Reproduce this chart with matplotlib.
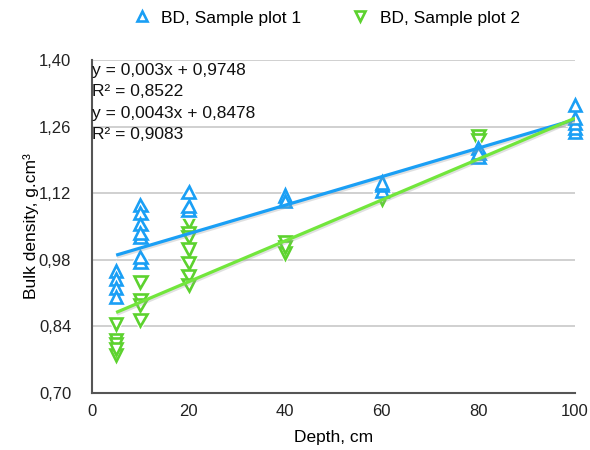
import matplotlib
matplotlib.use("Agg")
import matplotlib.pyplot as plt
import matplotlib.patheffects as pe
from matplotlib.lines import Line2D
from matplotlib.ticker import FuncFormatter, MultipleLocator

plt.rcParams['font.family'] = ['Liberation Sans', 'DejaVu Sans']

# bulk density samples, in draw order per depth
depth_1 = [5, 5, 5, 5,
           10, 10, 10, 10, 10, 10, 10,
           20, 20, 20,
           40, 40,
           60, 60, 60,
           80, 80, 80,
           100, 100, 100, 100, 100]
bd_1 = [0.956, 0.940, 0.921, 0.902,
        1.095, 1.078, 1.055, 1.028, 1.036, 0.975, 0.986,
        1.122, 1.085, 1.093,
        1.115, 1.104,
        1.126, 1.137, 1.143,
        1.196, 1.215, 1.205,
        1.249, 1.257, 1.268, 1.278, 1.305]

depth_2 = [5, 5, 5, 5, 5,
           10, 10, 10, 10,
           20, 20, 20, 20, 20, 20, 20,
           40, 40, 40,
           60,
           80, 80]
bd_2 = [0.845, 0.811, 0.803, 0.780, 0.792,
        0.933, 0.895, 0.885, 0.853,
        1.059, 1.035, 1.028, 1.002, 0.973, 0.946, 0.927,
        1.017, 0.994, 1.007,
        1.108,
        1.240, 1.232]

# linear trendlines
slope = [0.003, 0.0043]
intercept = [0.9748, 0.8478]
r2 = [0.8522, 0.9083]
fit_range = [5, 100]

names = ['BD, Sample plot 1', 'BD, Sample plot 2']
blue = '#1A9FF5'
green = '#5CD22E'
green_line = '#72E63C'

fig = plt.figure(figsize=(5.9, 4.5), dpi=100)
ax = fig.add_axes([92 / 590, 1 - 393 / 450, (575 - 92) / 590, (393 - 60) / 450])

halo = [pe.Stroke(linewidth=3.4, foreground='white'), pe.Normal()]

ax.plot(depth_2, bd_2, linestyle='none', marker='v', markersize=9,
        markerfacecolor='white', markeredgecolor=green, markeredgewidth=1.9,
        path_effects=halo, clip_on=False, zorder=3)
ax.plot(depth_1, bd_1, linestyle='none', marker='^', markersize=9,
        markerfacecolor='white', markeredgecolor=blue, markeredgewidth=1.9,
        path_effects=halo, clip_on=False, zorder=4)

shadow = [pe.SimpleLineShadow(offset=(0.6, -1.3), shadow_color='#9a9a9a', alpha=0.3),
          pe.Normal()]
for m, b, c in zip(slope, intercept, [blue, green_line]):
    ys = [m * x + b for x in fit_range]
    ax.plot(fit_range, ys, color=c, linewidth=2.3, solid_capstyle='butt',
            path_effects=shadow, zorder=5)

ax.set_xlim(0, 100)
ax.set_ylim(0.70, 1.40)
ax.xaxis.set_major_locator(MultipleLocator(20))
ax.yaxis.set_major_locator(MultipleLocator(0.14))
ax.yaxis.set_major_formatter(FuncFormatter(lambda v, p: f"{v:.2f}".replace('.', ',')))
ax.grid(axis='y', color='#C8C8C8', linewidth=1.2)
ax.set_axisbelow(True)
ax.tick_params(length=0, labelsize=12, colors='#222222')
ax.tick_params(axis='y', pad=15)
ax.tick_params(axis='x', pad=8)
for s in ['top', 'right']:
    ax.spines[s].set_visible(False)
for s in ['left', 'bottom']:
    ax.spines[s].set_color('#555555')
    ax.spines[s].set_linewidth(1.5)

ax.set_xlabel('Depth, cm', fontsize=12.5, labelpad=8)
ax.set_ylabel('Bulk density, g.cm³', fontsize=12.5, labelpad=0)

eq_lines = []
for m, b, r in zip(slope, intercept, r2):
    eq_lines.append(f"y = {m:g}x + {b:.4f}".replace('.', ','))
    eq_lines.append(f"R² = {r:.4f}".replace('.', ','))
for i, t in enumerate(eq_lines):
    fig.text(92 / 590, 1 - (70 + 21.6 * i) / 450, t, fontsize=12.5,
             va='center', ha='left', color='#111111')

handles = [Line2D([], [], linestyle='none', marker='^', markersize=7.5,
                  markerfacecolor='white', markeredgecolor=blue, markeredgewidth=1.9),
           Line2D([], [], linestyle='none', marker='v', markersize=7.5,
                  markerfacecolor='white', markeredgecolor=green, markeredgewidth=1.9)]
fig.legend(handles, names, loc='center', bbox_to_anchor=(0.552, 1 - 18 / 450),
           ncol=2, frameon=False, fontsize=12.5, columnspacing=2.8,
           handletextpad=0.5, handlelength=1.2)

fig.savefig('out.png', dpi=100)
